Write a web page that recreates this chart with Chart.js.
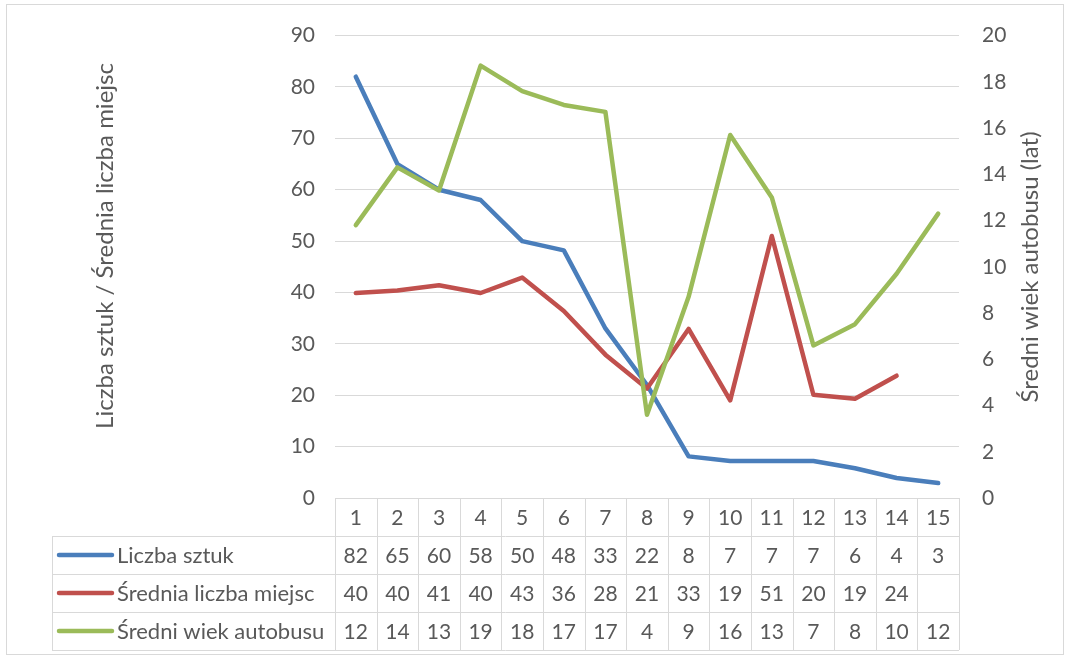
<!DOCTYPE html>
<html lang="pl">
<head>
<meta charset="utf-8">
<title>Autobusy</title>
<script src="https://cdn.jsdelivr.net/npm/chart.js@4.4.1/dist/chart.umd.min.js"></script>
<style>
  html, body { margin: 0; padding: 0; background: #fff; }
  #wrap { width: 1071px; height: 659px; }
</style>
</head>
<body>
<div id="wrap"><canvas id="chart" width="1071" height="659"></canvas></div>
<script>
// values (the table shows them rounded)
const categories = ['1', '2', '3', '4', '5', '6', '7', '8', '9', '10', '11', '12', '13', '14', '15'];
const liczbaSztuk = [82, 65, 60, 58, 50, 48.2, 33, 22, 8.1, 7.2, 7.2, 7.2, 5.8, 3.9, 2.9];
const sredniaMiejsc = [39.9, 40.4, 41.4, 39.9, 42.9, 36.4, 27.9, 21.3, 32.9, 19.0, 51.0, 20.1, 19.3, 23.8, null];
const sredniWiek = [11.8, 14.3, 13.3, 18.7, 17.6, 17.0, 16.7, 3.6, 8.7, 15.7, 13.0, 6.6, 7.52, 9.7, 12.3];

const seriesNames = ['Liczba sztuk', 'Średnia liczba miejsc', 'Średni wiek autobusu'];
const seriesColors = ['#4a7ebb', '#c0504d', '#9bbb59'];
const leftTitle = 'Liczba sztuk / Średnia liczba miejsc';
const rightTitle = 'Średni wiek autobusu (lat)';

const textColor = '#595959';
const gridColor = '#d9d9d9';
const fontName = 'Lato, "Open Sans", sans-serif';

// axis titles + data table under the plot
const tablePlugin = {
    id: 'excelTable',
    afterDraw(chart) {
        const ctx = chart.ctx;
        const x = chart.scales.x;
        const area = chart.chartArea;
        const colW = (area.right - area.left) / categories.length;
        const rowH = 38;
        const top = area.bottom;
        const legendLeft = 52;
        const allSeries = [liczbaSztuk, sredniaMiejsc, sredniWiek];

        ctx.save();
        ctx.strokeStyle = gridColor;
        ctx.lineWidth = 1;

        // horizontal lines
        for (let r = 1; r <= 4; r++) {
            const y = Math.round(top + r * rowH) + 0.5;
            ctx.beginPath();
            ctx.moveTo(legendLeft, y);
            ctx.lineTo(area.right, y);
            ctx.stroke();
        }
        // vertical lines
        for (let c = 0; c <= categories.length; c++) {
            const xx = Math.round(area.left + c * colW) + 0.5;
            ctx.beginPath();
            ctx.moveTo(xx, top);
            ctx.lineTo(xx, top + 4 * rowH);
            ctx.stroke();
        }
        ctx.beginPath();
        ctx.moveTo(legendLeft + 0.5, top + rowH);
        ctx.lineTo(legendLeft + 0.5, top + 4 * rowH);
        ctx.stroke();

        // outer frame of the chart
        ctx.strokeRect(6.5, 4.5, 1057, 650);

        ctx.fillStyle = textColor;
        ctx.textBaseline = 'middle';

        ctx.font = '21px ' + fontName;
        ctx.textAlign = 'center';
        categories.forEach((cat, i) => {
            ctx.fillText(cat, x.getPixelForValue(i), top + rowH / 2 + 1);
        });

        allSeries.forEach((values, s) => {
            const cy = top + (s + 1) * rowH + rowH / 2 + 1;
            ctx.font = '21px ' + fontName;
            ctx.textAlign = 'center';
            values.forEach((v, i) => {
                if (v === null) return;
                ctx.fillText(String(Math.round(v)), x.getPixelForValue(i), cy);
            });
            // legend key
            ctx.strokeStyle = seriesColors[s];
            ctx.lineWidth = 4.5;
            ctx.lineCap = 'round';
            ctx.beginPath();
            ctx.moveTo(59, cy - 1);
            ctx.lineTo(112, cy - 1);
            ctx.stroke();
            ctx.font = '22px ' + fontName;
            ctx.textAlign = 'left';
            ctx.fillText(seriesNames[s], 117, cy);
        });

        // axis titles
        ctx.font = '24px ' + fontName;
        ctx.textAlign = 'center';
        ctx.save();
        ctx.translate(105, 246);
        ctx.rotate(-Math.PI / 2);
        ctx.fillText(leftTitle, 0, 0);
        ctx.restore();
        ctx.save();
        ctx.translate(1030, 267);
        ctx.rotate(-Math.PI / 2);
        ctx.fillText(rightTitle, 0, 0);
        ctx.restore();

        ctx.restore();
    }
};

function makeLine(label, data, color, axis) {
    return {
        label: label,
        data: data,
        yAxisID: axis,
        borderColor: color,
        backgroundColor: color,
        borderWidth: 4.5,
        borderCapStyle: 'round',
        borderJoinStyle: 'round',
        pointRadius: 0,
        tension: 0,
        spanGaps: false
    };
}

new Chart(document.getElementById('chart'), {
    type: 'line',
    data: {
        labels: categories,
        datasets: [
            makeLine(seriesNames[2], sredniWiek, seriesColors[2], 'y1'),
            makeLine(seriesNames[1], sredniaMiejsc, seriesColors[1], 'y'),
            makeLine(seriesNames[0], liczbaSztuk, seriesColors[0], 'y')
        ]
    },
    options: {
        responsive: false,
        animation: false,
        layout: { padding: { top: 33, bottom: 161, left: 0, right: 0 } },
        plugins: {
            legend: { display: false },
            tooltip: { enabled: false }
        },
        scales: {
            x: {
                display: false,
                offset: true
            },
            y: {
                position: 'left',
                min: 0,
                max: 90,
                afterFit(scale) { scale.width = 335; },
                border: { display: false },
                grid: { color: gridColor, drawTicks: false, lineWidth: 1 },
                ticks: {
                    stepSize: 10,
                    padding: 20,
                    color: textColor,
                    font: { family: fontName, size: 21 }
                }
            },
            y1: {
                position: 'right',
                min: 0,
                max: 20,
                afterFit(scale) { scale.width = 112; },
                border: { display: false },
                grid: { display: false, drawTicks: false },
                ticks: {
                    stepSize: 2,
                    padding: 23,
                    color: textColor,
                    font: { family: fontName, size: 21 }
                }
            }
        }
    },
    plugins: [tablePlugin]
});
</script>
</body>
</html>
